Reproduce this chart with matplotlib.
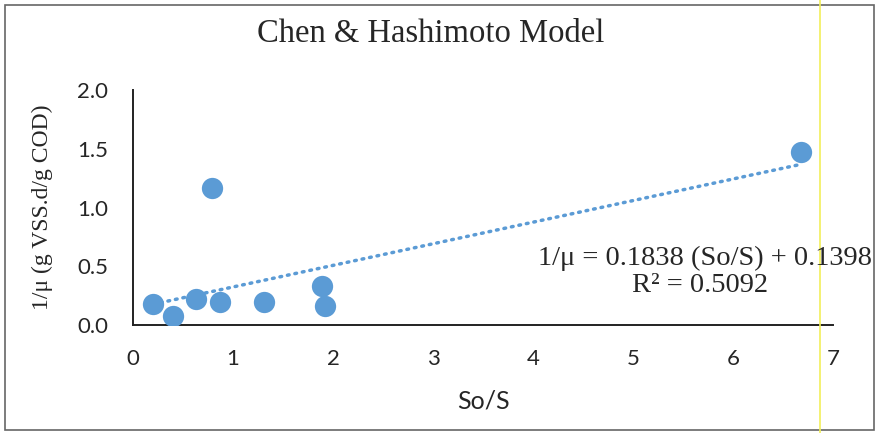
import numpy as np
import matplotlib
matplotlib.use("Agg")
import matplotlib.pyplot as plt
from matplotlib.patches import Rectangle

# data
so_s = [0.20, 0.40, 0.63, 0.79, 0.87, 1.31, 1.89, 1.92, 6.68]
inv_mu = [0.18, 0.08, 0.22, 1.17, 0.20, 0.20, 0.33, 0.16, 1.47]

slope = 0.1838
intercept = 0.1398
r2 = 0.5092

x_ticks = [0, 1, 2, 3, 4, 5, 6, 7]
y_ticks = [0.0, 0.5, 1.0, 1.5, 2.0]

blue = "#5b9bd5"
ink = "#262626"
serif = ["Liberation Serif", "DejaVu Serif"]
W, H = 879, 433

fig = plt.figure(figsize=(8.79, 4.33), dpi=100)
ax = fig.add_axes([133/W, 1-325/H, 700/W, 235/H])

ax.scatter(so_s, inv_mu, s=235, color=blue, zorder=3, linewidths=0)

# linear trendline (excel style, dotted)
xt = np.array([min(so_s), max(so_s)])
ax.plot(xt, slope*xt + intercept, color=blue, lw=2.5, ls=(0, (0.5, 1.7)),
        dash_capstyle="round", zorder=2)

ax.set_xlim(0, 7)
ax.set_ylim(0, 2)
ax.set_xticks(x_ticks)
ax.set_yticks(y_ticks)
ax.set_xticklabels([str(v) for v in x_ticks])
ax.set_yticklabels(["%.1f" % v for v in y_ticks])
ax.tick_params(length=0, labelsize=16, labelcolor="#262626")
ax.tick_params(axis="x", pad=17)
ax.tick_params(axis="y", pad=18)
for lab in ax.get_xticklabels() + ax.get_yticklabels():
    lab.set_family("Lato")

for s in ["top", "right"]:
    ax.spines[s].set_visible(False)
for s in ["left", "bottom"]:
    ax.spines[s].set_color("#222222")
    ax.spines[s].set_linewidth(1.4)

fig.text(483/W, 1-401/H, "So/S", ha="center", va="center", fontsize=18,
         family="Lato", color=ink)
fig.text(42/W, 1-207/H, "1/\u03bc (g VSS.d/g COD)", ha="center", va="center",
         rotation=90, fontsize=17, family=serif, color=ink)

fig.text(431/W, 1-34/H, "Chen & Hashimoto Model", ha="center", va="center",
         fontsize=23.5, family=serif, color=ink)

fig.text(872/W, 1-258/H, "1/\u03bc = 0.1838 (So/S) + 0.1398", ha="right",
         va="center", fontsize=20.5, family=serif, color=ink)
fig.text(700/W, 1-286/H, "R\u00b2 = %.4f" % r2, ha="center", va="center",
         fontsize=20.5, family=serif, color=ink)

# chart border and scan line
fig.patches.append(Rectangle((5/W, 3/H), 869/W, 425/H, transform=fig.transFigure,
                             fill=False, edgecolor="#666666", lw=1.2))
fig.lines.append(plt.Line2D([820/W, 820/W], [0, 1], transform=fig.transFigure,
                            color="#f2ef5a", lw=1.2))

fig.savefig("out.png", dpi=100)
